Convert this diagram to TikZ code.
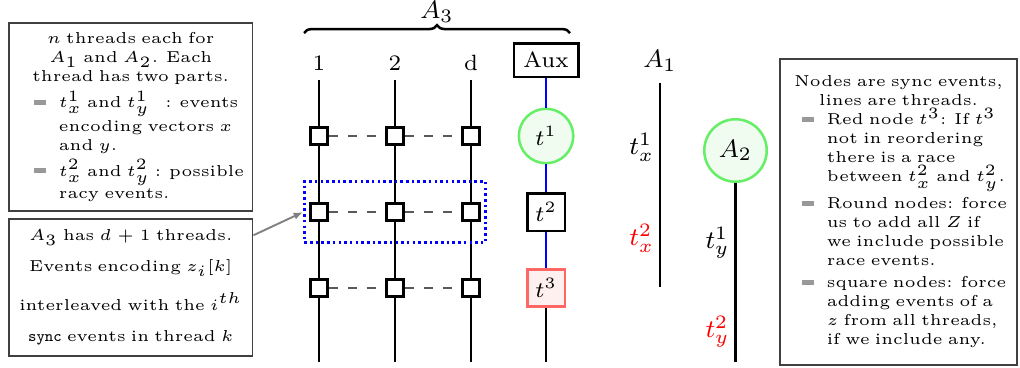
\documentclass[tikz,border=0pt]{standalone}
\usepackage{amsmath}
\usepackage{xcolor}
\usepackage{enumitem}
\definecolor{roundgreen}{HTML}{66EE66}
\definecolor{roundfill}{HTML}{F1FCF1}
\definecolor{racered}{HTML}{FF6666}
\definecolor{racefill}{HTML}{FFF0F0}
\definecolor{noteedge}{HTML}{404040}
\usepackage{tikz}
\usetikzlibrary{
  arrows.meta,
  positioning,
  fit,
  decorations.pathreplacing
}
\newcommand{\barmark}{\textcolor{gray!80}{\rule[0.9pt]{3.8pt}{1.5pt}}}
\setlist[itemize]{label=\barmark, leftmargin=13.3pt, labelsep=4pt, topsep=1pt, itemsep=1pt, parsep=0pt, partopsep=0pt}

\begin{document}
\begin{tikzpicture}[
  notebox/.style={rectangle, draw=noteedge, semithick, text width=72pt, font=\tiny, align=left, inner xsep=2.5pt, inner ysep=3pt, anchor=north west},
  threadlabel/.style={font=\scriptsize, text height=1.6ex, text depth=0.3ex, inner sep=1.5pt},
  syncsq/.style={rectangle, draw, thick, fill=white, minimum size=0.19cm, inner sep=0pt},
  auxbox/.style={rectangle, draw, thick, fill=white, minimum size=0.416cm, inner sep=0pt, font=\scriptsize},
  roundnode/.style={circle, draw=roundgreen, fill=roundfill, thick, inner sep=0pt},
  thread/.style={thick},
  auxline/.style={thick, blue},
  syncdash/.style={dashed, semithick, black!65},
  tlabel/.style={left, inner sep=1.5pt, font=\footnotesize},
]
\useasboundingbox (0,0) rectangle (11.333,4.078);

% notes on the left and on the right
\node[notebox, minimum height=2.02cm] (threadnote) at (0.089,3.833) {%
  {\centering $n$ threads each for\\ $A_1$ and $A_2$. Each\\ thread has two parts.\par}
  \begin{itemize}
    \item $t_x^1$ and $t_y^1$\quad : events encoding vectors $x$ and $y$.
    \item $t_x^2$ and $t_y^2$ : possible racy events.
  \end{itemize}};
\node[notebox, align=center, minimum height=1.52cm] (znote) at (0.089,1.656) {%
  $A_3$ has $d+1$ threads.\\[4pt]
  Events encoding $z_i[k]$\\[4pt]
  interleaved with the $i^{th}$\\[4pt]
  \texttt{sync} events in thread $k$};
\node[notebox, inner xsep=1.5pt, minimum height=3.4cm] (legend) at (8.656,3.433) {%
  {\centering Nodes are sync events,\\ lines are threads.\par}
  \begin{itemize}[topsep=0pt]
    \item Red node $t^3$: If $t^3$\\ not in reordering\\ there is a race\\ between $t_x^2$ and $t_y^2$.
    \item Round nodes: force\\ us to add all $Z$ if\\ we include possible\\ race events.
    \item square nodes: force\\ adding events of a\\ $z$ from all threads,\\ if we include any.
  \end{itemize}};

% A_3: d threads and the aux thread
\node[threadlabel] (lab1) at (3.544,3.389) {1};
\node[threadlabel] (lab2) at (4.389,3.389) {2};
\node[threadlabel] (lab3) at (5.233,3.389) {d};
\node[auxbox, minimum width=0.716cm, minimum height=0.372cm] (aux) at (6.067,3.411) {Aux};

\node[syncsq] (s11) at (3.544,2.567) {};
\node[syncsq] (s12) at (4.389,2.567) {};
\node[syncsq] (s13) at (5.233,2.567) {};
\node[syncsq] (s21) at (3.544,1.722) {};
\node[syncsq] (s22) at (4.389,1.722) {};
\node[syncsq] (s23) at (5.233,1.722) {};
\node[syncsq] (s31) at (3.544,0.878) {};
\node[syncsq] (s32) at (4.389,0.878) {};
\node[syncsq] (s33) at (5.233,0.878) {};

\coordinate (e1) at (3.544,0.056);
\coordinate (e2) at (4.389,0.056);
\coordinate (e3) at (5.233,0.056);
\coordinate (e4) at (6.067,0.056);

\node[roundnode, minimum size=0.605cm, font=\scriptsize] (t1) at (6.067,2.567) {$t^1$};
\node[auxbox] (t2) at (6.067,1.722) {$t^2$};
\node[auxbox, draw=racered, fill=racefill] (t3) at (6.067,0.878) {$t^3$};

\draw[thread] (lab1) -- (s11) -- (s21) -- (s31) -- (e1);
\draw[thread] (lab2) -- (s12) -- (s22) -- (s32) -- (e2);
\draw[thread] (lab3) -- (s13) -- (s23) -- (s33) -- (e3);
\draw[syncdash] (s11) -- (s12) -- (s13);
\draw[syncdash] (s21) -- (s22) -- (s23);
\draw[syncdash] (s31) -- (s32) -- (s33);

\draw[auxline] (aux) -- (t1);
\draw[auxline] (t1) -- (t2);
\draw[auxline] (t2) -- (t3);
\draw[thread] (t3) -- (e4);

\coordinate (bracel) at (3.378,3.711);
\coordinate (bracer) at (6.333,3.711);
\draw[thick, decorate, decoration={brace, amplitude=2.5pt}] (bracel) -- (bracer)
  node[midway, above=2pt, inner sep=1pt, font=\footnotesize] (a3) {$A_3$};

\node[draw=blue, densely dotted, thick, fit=(s21)(s23), inner xsep=1.5pt, inner ysep=6.5pt] (zrow) {};
\draw[-{Latex[length=3pt]}, gray, semithick] (znote.23) -- (zrow.west);

% A_1 and A_2
\node[font=\footnotesize] (a1) at (7.333,3.4) {$A_1$};
\coordinate (a1mid) at (7.333,1.722);
\coordinate (a1end) at (7.333,0.889);
\draw[thread] (a1) -- (a1mid) node[tlabel, midway] {$t_x^1$};
\draw[thread] (a1mid) -- (a1end) node[tlabel, pos=0.35, red] {$t_x^2$};

\node[roundnode, minimum size=0.694cm, font=\footnotesize] (a2) at (8.172,2.406) {$A_2$};
\coordinate (a2mid) at (8.172,0.722);
\coordinate (a2end) at (8.172,0.056);
\draw[thread] (a2) -- (a2mid) node[tlabel, midway] {$t_y^1$};
\draw[thread] (a2mid) -- (a2end) node[tlabel, midway, red] {$t_y^2$};

\end{tikzpicture}
\end{document}
